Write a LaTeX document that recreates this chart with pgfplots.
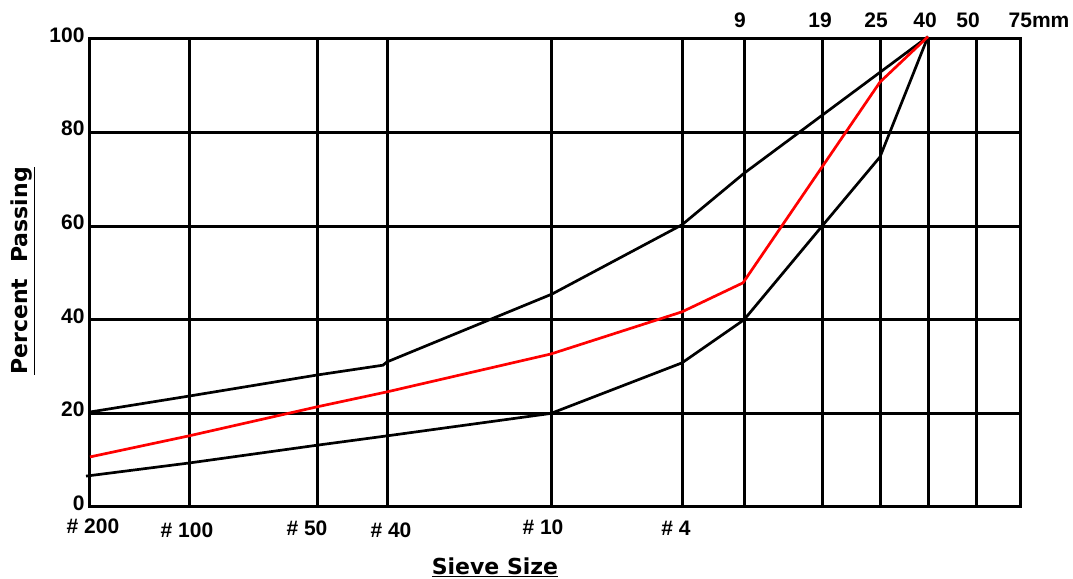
\documentclass[border=0pt]{standalone}
\usepackage{pgfplots}
\pgfplotsset{compat=1.18}
\usepackage{fontspec}
\setmainfont{Liberation Sans}
\newfontfamily\dejavu{DejaVu Sans}
\begin{document}
\begin{tikzpicture}
\begin{axis}[
 at={(0pt,0pt)}, anchor=south west,
 scale only axis, width=930pt, height=468pt,
 xmin=90, xmax=1020, ymin=0, ymax=100,
 xtick={189,317,387,551,682,744,822,880,928,976}, xticklabels={},
 ytick={0,20,40,60,80,100}, yticklabels={0,20,40,60,80,100},
 yticklabel style={font=\fontsize{21}{24}\selectfont\bfseries, xshift=-2pt, yshift=4pt},
 grid=major, major grid style={black, line width=3pt},
 axis line style={black, line width=3pt},
 major tick length=0pt,
 clip=false,
]
% upper limit
\addplot[black, line width=2.7pt, line join=round] coordinates {
 (90,20.3) (189,23.7) (317,28.2) (383,30.3) (387,31.0) (552,45.5) (682,60.3) (744,71.3) (928,100.5)};
% lower limit
\addplot[black, line width=2.7pt, line join=round] coordinates {
 (86,6.6) (189,9.4) (317,13.2) (387,15.2) (551,20) (682,30.8) (744,40) (822,60) (880,74.8) (928,100.5)};
% sample
\addplot[red, line width=2.7pt, line join=round] coordinates {
 (90,10.7) (189,15.2) (317,21.4) (387,24.6) (551,32.7) (682,41.7) (743,47.9) (880,90.8) (928,100.5)};
% sieve labels
\begin{scope}[every node/.style={font=\fontsize{21}{24}\selectfont\bfseries}]
\node[yshift=-19pt] at (axis cs:93,0) {\# 200};
\node[yshift=-23pt] at (axis cs:187,0) {\# 100};
\node[yshift=-21pt] at (axis cs:307,0) {\# 50};
\node[yshift=-23pt] at (axis cs:391,0) {\# 40};
\node[yshift=-20pt] at (axis cs:543,0) {\# 10};
\node[yshift=-21pt] at (axis cs:676,0) {\# 4};
\node[yshift=19pt] at (axis cs:740,100) {9};
\node[yshift=19pt] at (axis cs:820,100) {19};
\node[yshift=19pt] at (axis cs:876,100) {25};
\node[yshift=19pt] at (axis cs:925,100) {40};
\node[yshift=19pt] at (axis cs:968,100) {50};
\node[yshift=19pt] at (axis cs:1039,100) {75mm};
\end{scope}
\end{axis}
\node[rotate=90, font=\dejavu\bfseries\fontsize{22}{26}\selectfont] at (-67pt,236pt) {\underline{Percent\hspace{16pt}Passing}};
\node[font=\dejavu\bfseries\fontsize{22}{26}\selectfont] at (405pt,-60pt) {\underline{Sieve Size}};
\pgfresetboundingbox
\path[use as bounding box] (-90pt,-71pt) rectangle (983pt,507pt);
\end{tikzpicture}
\end{document}
